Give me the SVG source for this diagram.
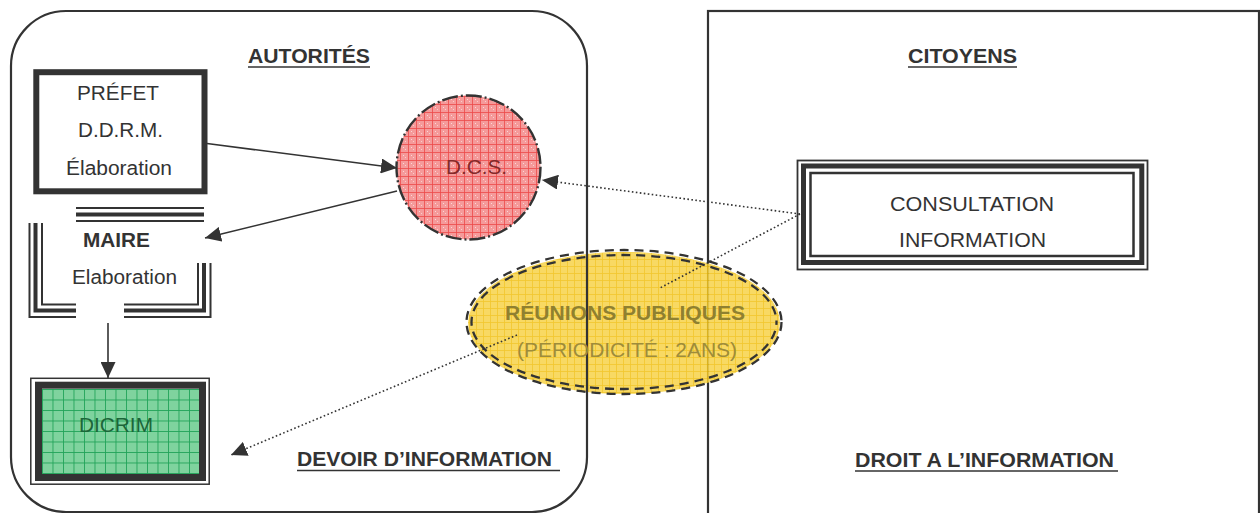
<svg xmlns="http://www.w3.org/2000/svg" width="1260" height="513" viewBox="0 0 1260 513">
<style>
text{font-family:"Liberation Sans",Arial,sans-serif;font-size:20px;fill:#333;}
.b{font-weight:bold;}
.ln{stroke:#333;fill:none;}
.ul{stroke:#333;stroke-width:1.6;}
.conn{stroke:#333;stroke-width:1.6;fill:none;}
.dot{stroke:#333;stroke-width:1.6;fill:none;stroke-dasharray:1.6 2.4;}
</style>
<defs>
<marker id="ah" markerUnits="userSpaceOnUse" markerWidth="17" markerHeight="15" refX="16" refY="7.5" orient="auto">
<path d="M0,0 L16,7.5 L0,15 Z" fill="#333"/>
</marker>
<pattern id="pPink" patternUnits="userSpaceOnUse" width="8" height="8">
<rect width="8" height="8" fill="#f59a9a"/>
<path d="M0,0.5 H8 M0.5,0 V8" stroke="#ec4a4a" stroke-width="0.8"/>
<rect x="3" y="3" width="1" height="1" fill="#fff" opacity="0.6"/>
<rect x="5" y="5" width="1" height="1" fill="#fff" opacity="0.5"/>
</pattern>
<pattern id="pYel" patternUnits="userSpaceOnUse" width="7" height="7">
<rect width="7" height="7" fill="#f7d44e"/>
<path d="M0,0.5 H7 M0.5,0 V7" stroke="#f0bf10" stroke-width="0.8"/>
</pattern>
<pattern id="pGreen" patternUnits="userSpaceOnUse" width="10.5" height="10.5" x="42" y="389">
<rect width="10.5" height="10.5" fill="#7fd39e"/>
<path d="M0,0.5 H10.5 M0.5,0 V10.5" stroke="#22a458" stroke-width="0.9"/>
</pattern>
</defs>

<g id="panel-citoyens">
<rect class="ln" x="708" y="11" width="551" height="520" stroke-width="2.2"/>
</g>

<g id="reunions">
<ellipse cx="624" cy="323" rx="156" ry="71" fill="url(#pYel)" opacity="0.88"/>
</g>

<g id="panel-autorites">
<rect class="ln" x="11" y="11" width="576" height="501" rx="55" ry="55" stroke-width="2.2"/>
</g>

<g id="reunions-border">
<ellipse class="ln" cx="624" cy="322" rx="157.5" ry="72" stroke-width="2.3" stroke-dasharray="9 6"/>
<ellipse class="ln" cx="624" cy="322" rx="152.5" ry="67" stroke-width="2.3" stroke-dasharray="9 6" stroke-dashoffset="6"/>
<text class="b" x="625" y="320" text-anchor="middle" textLength="240" lengthAdjust="spacingAndGlyphs" style="fill:#8f8030">RÉUNIONS PUBLIQUES</text>
<text x="627" y="357" text-anchor="middle" textLength="220" lengthAdjust="spacingAndGlyphs" style="fill:#9e8c3a">(PÉRIODICITÉ : 2ANS)</text>
</g>

<g id="labels">
<text class="b" x="248" y="63" textLength="122" lengthAdjust="spacingAndGlyphs">AUTORITÉS</text>
<line class="ul" x1="248" y1="67" x2="370" y2="67"/>
<text class="b" x="908" y="63" textLength="109" lengthAdjust="spacingAndGlyphs">CITOYENS</text>
<line class="ul" x1="908" y1="67" x2="1017" y2="67"/>
<text class="b" x="297" y="466" textLength="255" lengthAdjust="spacingAndGlyphs">DEVOIR D’INFORMATION</text>
<line class="ul" x1="297" y1="470.5" x2="560" y2="470.5"/>
<text class="b" x="855" y="467" textLength="259" lengthAdjust="spacingAndGlyphs">DROIT A L’INFORMATION</text>
<line class="ul" x1="855" y1="471" x2="1118" y2="471"/>
</g>

<g id="prefet">
<rect class="ln" x="36.3" y="72.2" width="168.2" height="119.1" stroke-width="6" fill="#fff"/>
<text x="77" y="100" textLength="82" lengthAdjust="spacingAndGlyphs">PRÉFET</text>
<text x="78" y="137" textLength="85" lengthAdjust="spacingAndGlyphs">D.D.R.M.</text>
<text x="66" y="175" textLength="106" lengthAdjust="spacingAndGlyphs">Élaboration</text>
</g>

<g id="maire">
<line class="ln" x1="76" y1="208" x2="204" y2="208" stroke-width="2"/>
<line class="ln" x1="76" y1="214.5" x2="204" y2="214.5" stroke-width="4"/>
<line class="ln" x1="76" y1="221" x2="204" y2="221" stroke-width="2"/>
<path class="ln" d="M29.5,223 V317 H76" stroke-width="2"/>
<path class="ln" d="M35.5,223 V310.5 H76" stroke-width="4"/>
<path class="ln" d="M42,223 V304.5 H76" stroke-width="2"/>
<path class="ln" d="M210.5,263 V317 H124" stroke-width="2"/>
<path class="ln" d="M204,263 V310.5 H124" stroke-width="4"/>
<path class="ln" d="M198,263 V304.5 H124" stroke-width="2"/>
<text class="b" x="83" y="247" textLength="67" lengthAdjust="spacingAndGlyphs">MAIRE</text>
<text x="72" y="284" textLength="105" lengthAdjust="spacingAndGlyphs">Elaboration</text>
</g>

<g id="dcs">
<circle cx="468.5" cy="167.5" r="72" fill="url(#pPink)" stroke="#333" stroke-width="2.4" stroke-dasharray="16 3 2 3"/>
<text x="446" y="174" textLength="61" lengthAdjust="spacingAndGlyphs" style="fill:#842929">D.C.S.</text>
</g>

<g id="dicrim">
<rect class="ln" x="30.8" y="378.3" width="178.4" height="105.9" stroke-width="1.5"/>
<rect x="42" y="389" width="157" height="85" fill="url(#pGreen)"/>
<rect class="ln" x="38.5" y="385.2" width="164" height="92.3" stroke-width="7"/>
<text x="79" y="432" textLength="74" lengthAdjust="spacingAndGlyphs" style="fill:#1c6639">DICRIM</text>
</g>

<g id="consultation">
<rect class="ln" x="797.5" y="160.5" width="350" height="109" stroke-width="1.8" fill="#fff"/>
<rect class="ln" x="803.5" y="166" width="338.3" height="96.5" stroke-width="5"/>
<rect class="ln" x="810.5" y="173" width="323" height="83" stroke-width="2.5"/>
<text x="890" y="211" textLength="164" lengthAdjust="spacingAndGlyphs">CONSULTATION</text>
<text x="899" y="247" textLength="147" lengthAdjust="spacingAndGlyphs">INFORMATION</text>
</g>

<g id="connectors">
<line class="conn" x1="207" y1="143.5" x2="397" y2="168" marker-end="url(#ah)"/>
<line class="conn" x1="397" y1="191" x2="205" y2="238" marker-end="url(#ah)"/>
<line class="conn" x1="108" y1="323" x2="108" y2="378" marker-end="url(#ah)"/>
<line class="dot" x1="800" y1="214" x2="542" y2="180" marker-end="url(#ah)"/>
<line class="dot" x1="800" y1="214" x2="660" y2="288"/>
<line class="dot" x1="517" y1="335" x2="231" y2="455" marker-end="url(#ah)"/>
</g>
</svg>
